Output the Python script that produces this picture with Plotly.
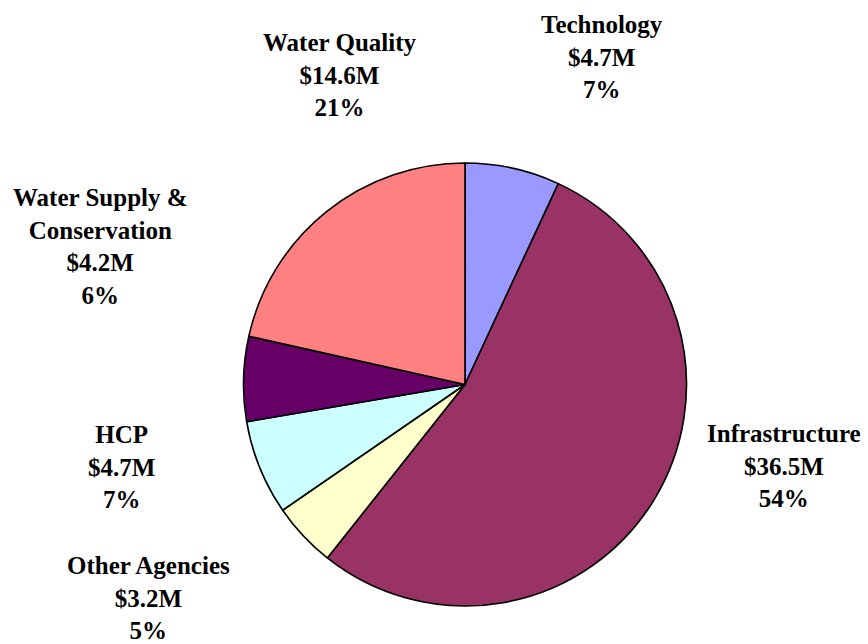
import plotly.graph_objects as go

categories = ["Technology", "Infrastructure", "Other Agencies", "HCP",
              "Water Supply & Conservation", "Water Quality"]
label_lines = [["Technology"], ["Infrastructure"], ["Other Agencies"], ["HCP"],
               ["Water Supply &", "Conservation"], ["Water Quality"]]
values_musd = [4.7, 36.5, 3.2, 4.7, 4.2, 14.6]
percents = [7, 54, 5, 7, 6, 21]
colors = ["#9999FF", "#993366", "#FFFFCC", "#CCFFFF", "#660066", "#FF8080"]

# label anchor positions (pixels, center of text block)
label_px = [(602, 57), (784, 466), (148, 598), (121, 467), (100, 246), (340, 75)]

W, H = 868, 644
cx, cy, r = 465, 384.5, 221.5

fig = go.Figure(go.Pie(
    labels=categories,
    values=values_musd,
    sort=False,
    direction="clockwise",
    rotation=0,
    textinfo="none",
    hoverinfo="label+value+percent",
    marker=dict(colors=colors, line=dict(color="#000000", width=1.6)),
    domain=dict(x=[(cx - r) / W, (cx + r) / W], y=[1 - (cy + r) / H, 1 - (cy - r) / H]),
))

for lines, v, p, (x, y) in zip(label_lines, values_musd, percents, label_px):
    text = "<br>".join(lines + [f"${v}M", f"{p}%"])
    fig.add_annotation(
        x=x / W, y=1 - y / H, xref="paper", yref="paper",
        text=text, showarrow=False, xanchor="center", yanchor="middle",
        align="center",
        font=dict(family="Liberation Serif", size=25, color="#000000", weight="bold"),
    )

fig.update_layout(
    width=W, height=H,
    margin=dict(l=0, r=0, t=0, b=0),
    showlegend=False,
    paper_bgcolor="#FFFFFF",
    plot_bgcolor="#FFFFFF",
)

fig.write_html("out.html")
